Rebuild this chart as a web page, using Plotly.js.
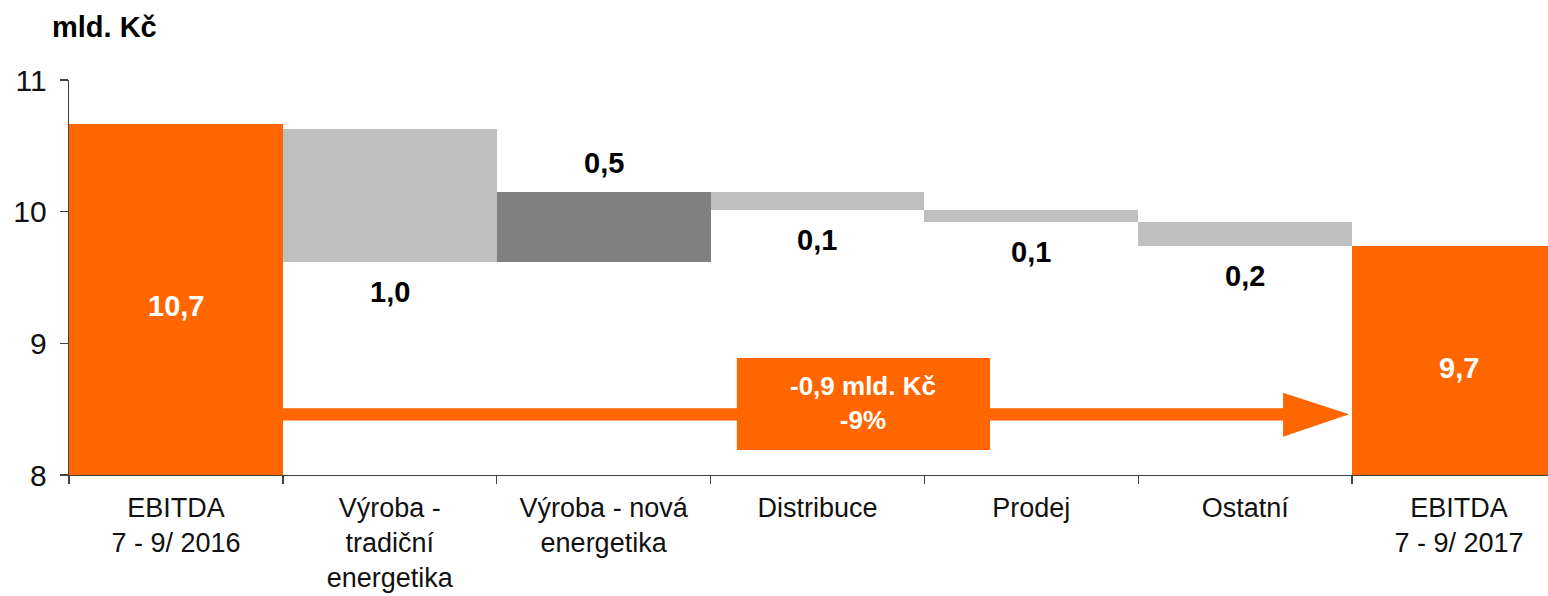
<!DOCTYPE html>
<html>
<head>
<meta charset="utf-8">
<script src="https://cdn.plot.ly/plotly-3.0.1.min.js"></script>
<style>html,body{margin:0;padding:0;background:#fff;}#chart{width:1548px;height:596px;}</style>
</head>
<body>
<div id="chart"></div>
<script>
// ---- data ----
var categories = ["EBITDA<br>7 - 9/ 2016", "Výroba -<br>tradiční<br>energetika", "Výroba - nová<br>energetika", "Distribuce", "Prodej", "Ostatní", "EBITDA<br>7 - 9/ 2017"];
var barLow  = [0, 9.614, 9.614, 10.013, 9.924, 9.739, 0];
var barHigh = [10.666, 10.628, 10.146, 10.146, 10.013, 9.918, 9.739];
var isTotal = [true, false, false, false, false, false, true];
var direction = [1, -1, 1, -1, -1, -1, 1];
var barLabels = ["10,7", "1,0", "0,5", "0,1", "0,1", "0,2", "9,7"];
var yTicks = [8, 9, 10, 11];
var unitLabel = "mld. Kč";
var changeLabel = "-0,9 mld. Kč<br>-9%";

// ---- styles ----
var ORANGE = "#FF6600", LIGHT = "#BFBFBF", DARK = "#808080";
var FONT = "Liberation Sans, Arial, sans-serif";
var yMin = 8, yMax = 11;

var colors = categories.map(function(c, i){
  return isTotal[i] ? ORANGE : (direction[i] > 0 ? DARK : LIGHT);
});

var trace = {
  type: "bar",
  x: categories,
  base: barLow,
  y: barHigh.map(function(h, i){ return h - barLow[i]; }),
  width: 1,
  marker: {color: colors, line: {width: 0}},
  hoverinfo: "skip"
};

var annotations = categories.map(function(c, i){
  var a = {x: c, xref: "x", yref: "y", text: barLabels[i], showarrow: false,
           font: {family: FONT, size: 29, color: "#000", weight: "bold"}};
  if (isTotal[i]) {
    a.y = (barHigh[i] + yMin) / 2; a.yanchor = "middle"; a.yshift = -7;
    a.font.color = "#FFFFFF";
  } else if (direction[i] > 0) {
    a.y = barHigh[i]; a.yanchor = "bottom"; a.yshift = 11;
  } else {
    a.y = barLow[i]; a.yanchor = "top"; a.yshift = -12;
  }
  return a;
});

annotations.push({
  x: 3.215, y: 8.55, xref: "x", yref: "y", text: changeLabel, showarrow: false,
  font: {family: FONT, size: 26, color: "#FFFFFF", weight: "bold"}, align: "center"
});

var shapes = [
  {type: "rect", xref: "x", yref: "y", x0: 0.5, x1: 5.18, y0: 8.413, y1: 8.507,
   fillcolor: ORANGE, line: {width: 0}, layer: "above"},
  {type: "path", xref: "x", yref: "y",
   path: "M 5.177 8.625 L 5.486 8.461 L 5.177 8.291 Z",
   fillcolor: ORANGE, line: {width: 0}, layer: "above"},
  {type: "rect", xref: "x", yref: "y", x0: 2.623, x1: 3.807, y0: 8.19, y1: 8.889,
   fillcolor: ORANGE, line: {width: 0}, layer: "above"}
];

var layout = {
  width: 1548, height: 596,
  margin: {l: 69, r: 0, t: 80, b: 121, pad: 0},
  paper_bgcolor: "#FFFFFF", plot_bgcolor: "#FFFFFF",
  showlegend: false, hovermode: false,
  bargap: 0,
  title: {text: unitLabel, xref: "container", yref: "container", x: 0.0336, xanchor: "left",
          y: 0.955, yanchor: "middle",
          font: {family: FONT, size: 29, color: "#000", weight: "bold"}},
  xaxis: {
    type: "category", range: [-0.5, 6.416],
    showline: true, linecolor: "#404040", linewidth: 1.3,
    ticks: "outside", tickson: "boundaries", ticklen: 8, tickcolor: "#404040", tickwidth: 1.3,
    showgrid: false, zeroline: false, ticklabelstandoff: 8,
    tickfont: {family: FONT, size: 27, color: "#111"}
  },
  yaxis: {
    range: [yMin, yMax], tickvals: yTicks, ticktext: yTicks.map(String),
    showline: true, linecolor: "#404040", linewidth: 1.3,
    ticks: "outside", ticklen: 8, tickcolor: "#404040", tickwidth: 1.3,
    showgrid: false, zeroline: false, ticklabelstandoff: 7,
    tickfont: {family: FONT, size: 30, color: "#111"}
  },
  annotations: annotations,
  shapes: shapes
};

Plotly.newPlot("chart", [trace], layout, {displayModeBar: false, staticPlot: true});
</script>
</body>
</html>
